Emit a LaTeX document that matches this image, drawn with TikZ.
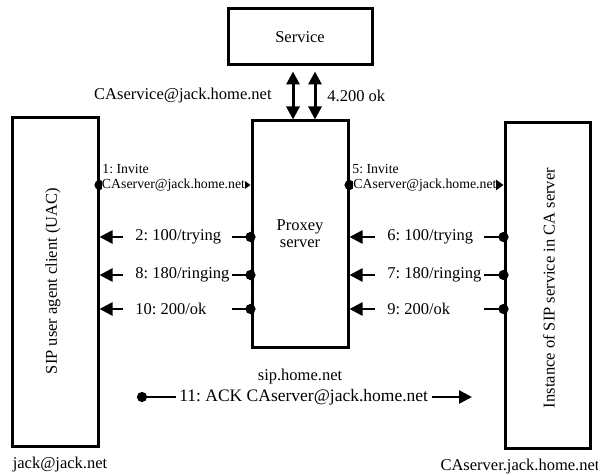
\documentclass[tikz,border=0pt]{standalone}
\usepackage{fontspec}
\setmainfont{Liberation Serif}
\usepackage{tikz}
\usetikzlibrary{arrows.meta, positioning, calc}
\newcommand{\msgfont}{\fontsize{8.25}{8.5}\selectfont}
\newcommand{\ackfont}{\fontsize{8.75}{9}\selectfont}
\newcommand{\invfont}{\fontsize{6.9}{8}\selectfont}
\frenchspacing
\tikzset{
  boxnode/.style={rectangle, draw, line width=1.5pt, fill=white,
    align=center, font=\msgfont},
  vtext/.style={rotate=90, inner sep=0pt, font=\msgfont},
  nametext/.style={inner sep=0pt, font=\msgfont},
  invhdr/.style={inner sep=0pt, anchor=west, font=\invfont},
  invlbl/.style={fill=white, inner xsep=0pt, inner ysep=1pt, font=\invfont},
  msglbl/.style={fill=white, anchor=west, inner xsep=0pt, inner ysep=2pt,
    text width=54.5pt, align=flush left, font=\msgfont,
    execute at begin node={\hspace*{6pt}}},
  acklbl/.style={fill=white, inner xsep=1.75pt, inner ysep=2pt, font=\ackfont},
  respline/.style={line width=1.3pt, shorten <=-2.5pt,
    {Circle[length=5pt]}-{Triangle[length=6.5pt,width=6.5pt]}},
  invline/.style={line width=1pt, shorten <=-2.5pt,
    {Circle[length=5pt]}-{Triangle[length=4pt,width=5.5pt]}},
  dblarr/.style={line width=1.5pt,
    {Triangle[length=6.5pt,width=6.5pt]}-{Triangle[length=6.5pt,width=6.5pt]}}
}

\begin{document}
\begin{tikzpicture}[x=0.5pt, y=-0.5pt]

  \useasboundingbox (0,0) rectangle (598,475);

  %% BOXES
  \node[boxnode, minimum width=72pt, minimum height=28pt] (service) at (300,37)
    {Service};
  \node[boxnode, minimum width=48pt, minimum height=113pt] (proxy) at (300,234)
    {Proxey\\server};
  \node[boxnode, minimum width=43pt, minimum height=164pt] (uac) at (55,282) {};
  \node[boxnode, minimum width=42.5pt, minimum height=162.5pt] (caserver)
    at (547.5,285.5) {};

  \node[vtext] (uac-txt) at (53,281) {SIP user agent client (UAC)};
  \node[vtext] (caserver-txt) at (549,288)
    {Instance of SIP service in CA server};

  %% HOST NAMES
  \node[nametext, below=10pt of proxy] (proxy-host) {sip.home.net};
  \node[nametext, below=4.75pt of uac, xshift=2.5pt] (uac-host) {jack@jack.net};
  \node[nametext, below=4.75pt of caserver, xshift=-13.75pt] (caserver-host)
    {CAserver.jack.home.net};

  %% SERVICE LINK
  \draw[dblarr] ([xshift=-3.5pt, yshift=-2.5pt] service.south)
    -- ([xshift=-3.5pt] proxy.north);
  \draw[dblarr] ([xshift=7.5pt, yshift=-2.5pt] service.south)
    -- ([xshift=7.5pt] proxy.north);
  \node[nametext, anchor=east] (svc-addr) at (272,96) {CAservice@jack.home.net};
  \node[nametext, anchor=west] (svc-ok) at (327,96) {4.200 ok};

  %% MESSAGE ROWS
  \coordinate (row-inv) at (0,185);
  \coordinate (row-a)   at (0,237);
  \coordinate (row-b)   at (0,275);
  \coordinate (row-c)   at (0,309);

  % invites
  \draw[invline] (uac.east |- row-inv) -- (proxy.west |- row-inv)
    node[pos=0.49, invlbl] {CAserver@jack.home.net};
  \draw[invline] (proxy.east |- row-inv) -- (caserver.west |- row-inv)
    node[pos=0.49, invlbl] {CAserver@jack.home.net};
  \node[invhdr] (inv1) at (102,169) {1: Invite};
  \node[invhdr] (inv5) at (352,169) {5: Invite};

  % responses to the client
  \draw[respline] (proxy.west |- row-a) -- (uac.east |- row-a);
  \draw[respline] (proxy.west |- row-b) -- (uac.east |- row-b);
  \draw[respline] (proxy.west |- row-c) -- (uac.east |- row-c);
  \node[msglbl] (msg2)  at (123,237) {2: 100/trying};
  \node[msglbl] (msg8)  at (123,275) {8: 180/ringing};
  \node[msglbl] (msg10) at (123,309) {10: 200/ok};

  % responses to the proxy
  \draw[respline] (caserver.west |- row-a) -- (proxy.east |- row-a);
  \draw[respline] (caserver.west |- row-b) -- (proxy.east |- row-b);
  \draw[respline] (caserver.west |- row-c) -- (proxy.east |- row-c);
  \node[msglbl] (msg6) at (375,237) {6: 100/trying};
  \node[msglbl] (msg7) at (375,275) {7: 180/ringing};
  \node[msglbl] (msg9) at (375,309) {9: 200/ok};

  %% ACK
  \coordinate (ack-s) at (142,397);
  \coordinate (ack-e) at (472,397);
  \draw[respline] (ack-s) -- (ack-e)
    node[pos=0.49, acklbl] {11: ACK CAserver@jack.home.net};

\end{tikzpicture}
\end{document}
